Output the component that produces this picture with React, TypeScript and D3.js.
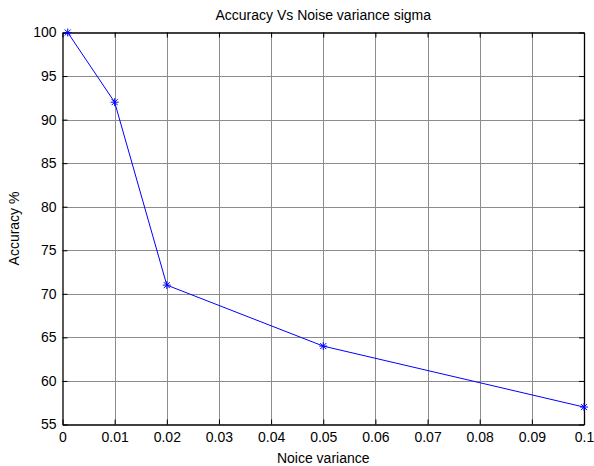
import { useEffect, useRef } from "react";
import * as d3 from "d3";

const noiseVariance = [0.001, 0.01, 0.02, 0.05, 0.1];
const accuracy = [100, 92, 71, 64, 57];
const xTicks = [0, 0.01, 0.02, 0.03, 0.04, 0.05, 0.06, 0.07, 0.08, 0.09, 0.1];
const yTicks = [55, 60, 65, 70, 75, 80, 85, 90, 95, 100];

export default function App() {
  const ref = useRef<SVGSVGElement | null>(null);

  useEffect(() => {
    const w = 594, h = 466;
    const m = { top: 32.5, right: 10, bottom: 41.5, left: 62.5 };
    const svg = d3.select(ref.current)
      .attr("width", w)
      .attr("height", h)
      .attr("viewBox", `0 0 ${w} ${h}`);
    svg.selectAll("*").remove();

    const x = d3.scaleLinear().domain([0, 0.1]).range([m.left, w - m.right]);
    const y = d3.scaleLinear().domain([55, 100]).range([h - m.bottom, m.top]);
    const font = "'Liberation Sans', Arial, sans-serif";
    const fs = 14;

    svg.append("rect").attr("width", w).attr("height", h).attr("fill", "#fff");

    // grid
    const grid = svg.append("g").attr("stroke", "#8c8c8c").attr("stroke-width", 1);
    grid.selectAll("line.gx")
      .data(xTicks.slice(1, -1))
      .join("line")
      .attr("x1", (d) => Math.round(x(d)) + 0.5).attr("x2", (d) => Math.round(x(d)) + 0.5)
      .attr("y1", m.top).attr("y2", h - m.bottom);
    grid.selectAll("line.gy")
      .data(yTicks.slice(1, -1))
      .join("line")
      .attr("class", "gy")
      .attr("y1", (d) => Math.round(y(d)) + 0.5).attr("y2", (d) => Math.round(y(d)) + 0.5)
      .attr("x1", m.left).attr("x2", w - m.right);

    // axes with inward ticks on all four sides
    const fmtX = (d: any) => (d === 0 ? "0" : d === 0.1 ? "0.1" : d3.format(".2f")(d));
    const bottom = svg.append("g")
      .attr("transform", `translate(0,${h - m.bottom})`)
      .call(d3.axisBottom(x).tickValues(xTicks).tickFormat(fmtX as any).tickSizeInner(-5).tickSizeOuter(0).tickPadding(8));
    const left = svg.append("g")
      .attr("transform", `translate(${m.left},0)`)
      .call(d3.axisLeft(y).tickValues(yTicks).tickSizeInner(-5).tickSizeOuter(0).tickPadding(8));
    svg.append("g")
      .attr("transform", `translate(0,${m.top})`)
      .call(d3.axisTop(x).tickValues(xTicks).tickFormat(() => "").tickSizeInner(-5).tickSizeOuter(0));
    svg.append("g")
      .attr("transform", `translate(${w - m.right},0)`)
      .call(d3.axisRight(y).tickValues(yTicks).tickFormat(() => "").tickSizeInner(-5).tickSizeOuter(0));

    svg.selectAll(".domain").attr("stroke", "#000").attr("stroke-width", 1.3);
    svg.selectAll(".tick line").attr("stroke", "#000");
    [bottom, left].forEach((g) =>
      g.selectAll("text").attr("font-family", font).attr("font-size", fs).attr("fill", "#000"));
    left.selectAll("text").attr("dx", 2);

    // line
    const pts = noiseVariance.map((v, i) => [v, accuracy[i]] as [number, number]);
    svg.append("path")
      .datum(pts)
      .attr("fill", "none")
      .attr("stroke", "#0000ff")
      .attr("stroke-width", 1)
      .attr("d", d3.line<[number, number]>().x((d) => x(d[0])).y((d) => y(d[1])));

    // asterisk markers
    const mk = svg.append("g").attr("stroke", "#0000ff").attr("stroke-width", 1);
    pts.forEach(([vx, vy]) => {
      const cx = x(vx), cy = y(vy);
      const p = 4, q = 3;
      mk.append("path").attr("d",
        `M${cx - p},${cy}L${cx + p},${cy}M${cx},${cy - p}L${cx},${cy + p}` +
        `M${cx - q},${cy - q}L${cx + q},${cy + q}M${cx - q},${cy + q}L${cx + q},${cy - q}`);
    });

    // labels
    svg.append("text")
      .attr("x", (m.left + w - m.right) / 2).attr("y", 20)
      .attr("text-anchor", "middle")
      .attr("font-family", font).attr("font-size", fs)
      .text("Accuracy Vs Noise variance sigma");
    svg.append("text")
      .attr("x", (m.left + w - m.right) / 2).attr("y", 463)
      .attr("text-anchor", "middle")
      .attr("font-family", font).attr("font-size", fs)
      .text("Noice variance");
    svg.append("text")
      .attr("transform", `translate(19,${(m.top + h - m.bottom) / 2}) rotate(-90)`)
      .attr("text-anchor", "middle")
      .attr("font-family", font).attr("font-size", fs)
      .text("Accuracy %");
  }, []);

  return (
    <div style={{ position: "absolute", left: 0, top: 0 }}>
      <svg ref={ref} style={{ display: "block" }} />
    </div>
  );
}
